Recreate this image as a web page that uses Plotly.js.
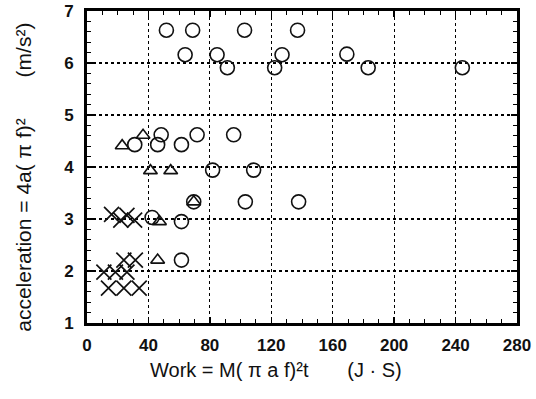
<!DOCTYPE html>
<html>
<head>
<meta charset="utf-8">
<script src="https://cdn.plot.ly/plotly-3.0.1.min.js"></script>
<style>html,body{margin:0;padding:0;background:#fff;}#chart{width:536px;height:399px;}</style>
</head>
<body>
<div id="chart"></div>
<script>
// Circles
const circleX = [51.7, 68.8, 102.6, 137.1, 63.9, 84.7, 91.4, 122.2, 127, 169.2, 183.1, 244.4, 31.1, 46, 48.3, 61.5, 71.7, 95.5, 81.8, 108.5, 69.5, 103.1, 137.8, 42.4, 61.5, 61.5];
const circleY = [6.63, 6.63, 6.63, 6.63, 6.16, 6.16, 5.91, 5.91, 6.16, 6.17, 5.91, 5.91, 4.43, 4.43, 4.62, 4.43, 4.62, 4.62, 3.94, 3.94, 3.33, 3.33, 3.33, 3.03, 2.95, 2.21];
// Triangles
const triX = [22.9, 36.5, 41.3, 54.5, 69.5, 47.2, 46.0];
const triY = [4.41, 4.61, 3.93, 3.93, 3.33, 2.95, 2.21];
// Crosses
const crossX = [16, 22, 26, 31, 24, 31.5, 11, 18.5, 26, 14, 24, 34];
const crossY = [3.09, 2.98, 3.07, 2.98, 2.21, 2.21, 1.98, 1.98, 1.98, 1.67, 1.67, 1.67];

const xTicks = [0, 40, 80, 120, 160, 200, 240, 280];
const yTicks = [1, 2, 3, 4, 5, 6, 7];

const NB = '\u00a0';
const xTitle = 'Work = M( π a f)²t' + NB.repeat(7) + '(J · S)';
const yTitle = 'acceleration = 4a( π f)²' + NB.repeat(7) + '(m/s²)';

const font = "Liberation Sans, Arial, sans-serif";

const traces = [
  {x: circleX, y: circleY, mode: 'markers', type: 'scatter', name: 'circle',
   marker: {symbol: 'circle-open', size: 14, color: '#111', line: {width: 1.6, color: '#111'}}},
  {x: triX, y: triY, mode: 'markers', type: 'scatter', name: 'triangle',
   marker: {symbol: 'triangle-up-open', size: 12, color: '#111', line: {width: 1.6, color: '#111'}}},
  {x: crossX, y: crossY, mode: 'markers', type: 'scatter', name: 'cross',
   marker: {symbol: 'x-thin-open', size: 15, color: '#111', line: {width: 1.7, color: '#111'}}}
];

const axisCommon = {
  showline: true, linecolor: '#000', linewidth: 3, mirror: 'allticks',
  ticks: 'inside', ticklen: 6, tickwidth: 1.5, tickcolor: '#000',
  showgrid: true, gridcolor: '#000', gridwidth: 1.2, griddash: 'dot',
  zeroline: false,
  tickfont: {family: font, size: 17, color: '#111', weight: 'bold'}
};

const layout = {
  width: 536, height: 399,
  margin: {l: 87, r: 19, t: 11, b: 76},
  paper_bgcolor: '#fff', plot_bgcolor: '#fff',
  showlegend: false,
  font: {family: font, color: '#111'},
  xaxis: Object.assign({}, axisCommon, {
    range: [0, 280], tickvals: xTicks, ticktext: xTicks.map(String),
    ticklabelstandoff: 5,
    minor: {dtick: 10, tick0: 0, ticks: 'inside', ticklen: 4, tickcolor: '#000', tickwidth: 1, showgrid: false}
  }),
  yaxis: Object.assign({}, axisCommon, {
    range: [1, 7], tickvals: yTicks, ticktext: yTicks.map(String),
    ticklabelstandoff: 7,
    minor: {dtick: 0.2, tick0: 1, ticks: 'inside', ticklen: 4, tickcolor: '#000', tickwidth: 1, showgrid: false}
  }),
  annotations: [
    {text: xTitle, xref: 'paper', yref: 'paper', x: 0.44, y: -0.151, xanchor: 'center', yanchor: 'middle',
     showarrow: false, font: {family: font, size: 20, color: '#111'}},
    {text: yTitle, xref: 'paper', yref: 'paper', x: -0.147, y: 0.468, xanchor: 'center', yanchor: 'middle',
     textangle: -90, showarrow: false, font: {family: font, size: 21, color: '#111'}}
  ]
};

Plotly.newPlot('chart', traces, layout, {displayModeBar: false, staticPlot: true});
</script>
</body>
</html>
